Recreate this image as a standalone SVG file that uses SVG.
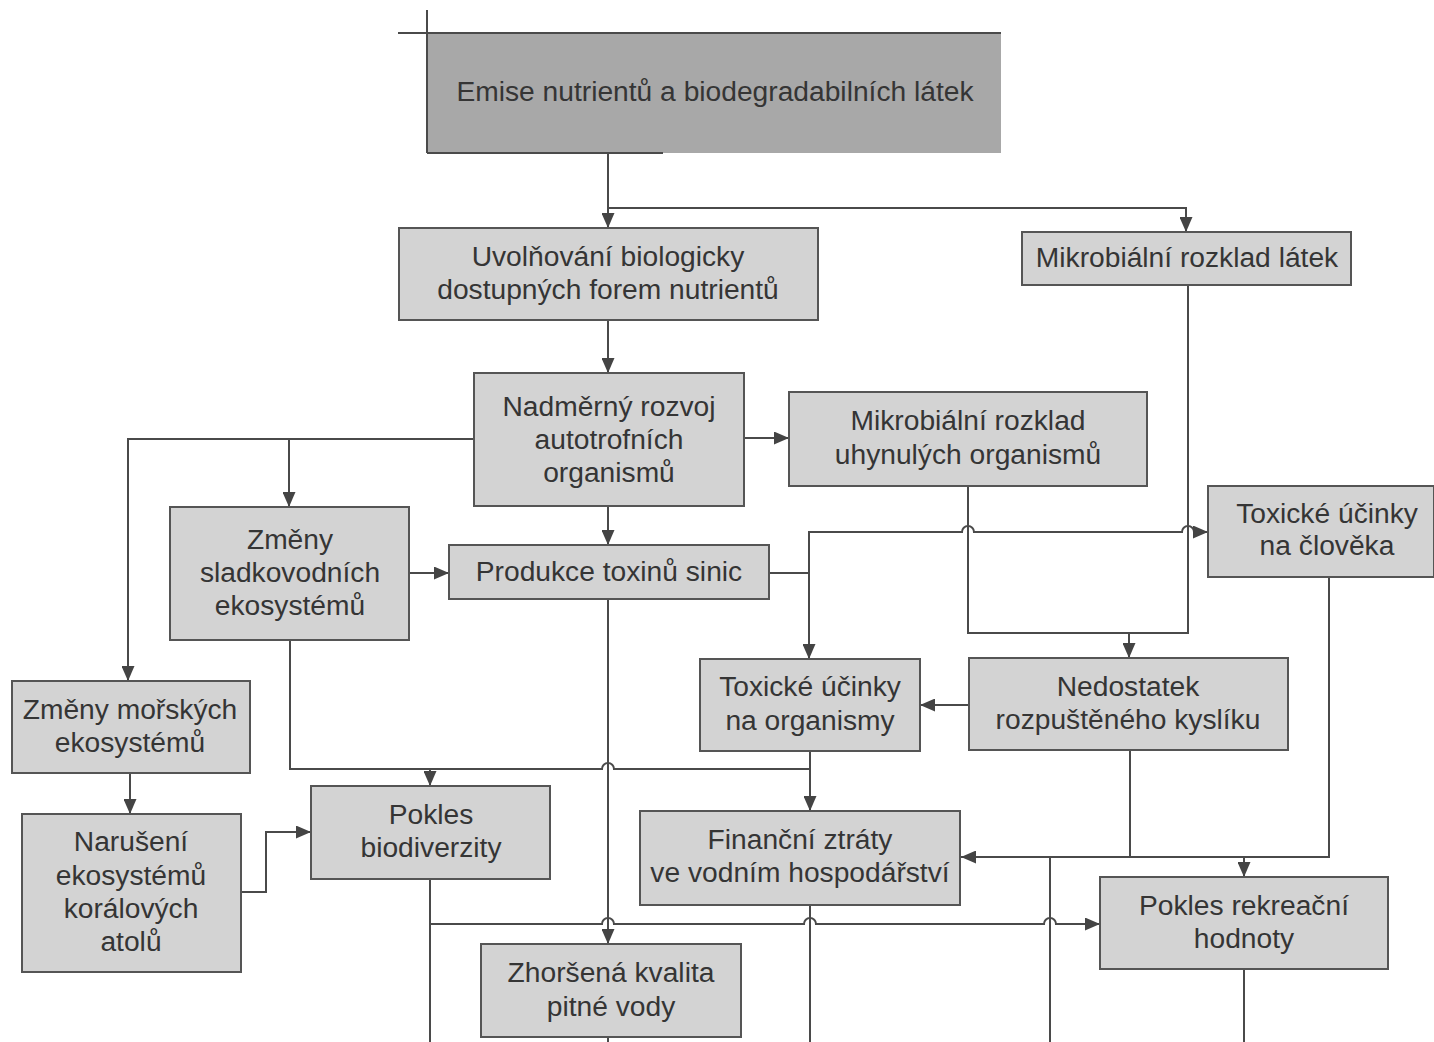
<svg xmlns="http://www.w3.org/2000/svg" width="1434" height="1042" viewBox="0 0 1434 1042">
<style>
.box{fill:#d3d3d3;stroke:#555;stroke-width:2}
.t{font-family:"Liberation Sans",Arial,sans-serif;font-size:28.2px;fill:#353535;text-anchor:middle}
.c{fill:none;stroke:#4a4a4a;stroke-width:2}
</style>
<defs>
<marker id="a" viewBox="0 0 15 13" refX="15" refY="6.5" markerWidth="15" markerHeight="13" orient="auto" markerUnits="userSpaceOnUse"><path d="M0,0 L15,6.5 L0,13 z" fill="#444"/></marker>
</defs>
<rect width="1434" height="1042" fill="#fff"/>
<g id="connectors">
<path class="c" d="M608 153 V228" marker-end="url(#a)"/>
<path class="c" d="M608 208 H1186 V232" marker-end="url(#a)"/>
<path class="c" d="M608 320 V373" marker-end="url(#a)"/>
<path class="c" d="M744 438 H789" marker-end="url(#a)"/>
<path class="c" d="M474 439 H128 V681" marker-end="url(#a)"/>
<path class="c" d="M289 439 V507" marker-end="url(#a)"/>
<path class="c" d="M608 506 V545" marker-end="url(#a)"/>
<path class="c" d="M409 573 H449" marker-end="url(#a)"/>
<path class="c" d="M769 573 H809 V659" marker-end="url(#a)"/>
<path class="c" d="M809 573 V532 H962 A6 6 0 0 1 974 532 H1182 A6 6 0 0 1 1194 532 H1208" marker-end="url(#a)"/>
<path class="c" d="M968 486 V633 H1188 V285"/>
<path class="c" d="M1129 633 V658" marker-end="url(#a)"/>
<path class="c" d="M969 705 H920" marker-end="url(#a)"/>
<path class="c" d="M810 751 V811" marker-end="url(#a)"/>
<path class="c" d="M290 640 V769 H602 A6 6 0 0 1 614 769 H810"/>
<path class="c" d="M430 769 V786" marker-end="url(#a)"/>
<path class="c" d="M608 599 V944" marker-end="url(#a)"/>
<path class="c" d="M130 773 V814" marker-end="url(#a)"/>
<path class="c" d="M241 892 H266 V832 H311" marker-end="url(#a)"/>
<path class="c" d="M1130 750 V857"/>
<path class="c" d="M1329 577 V857 H961" marker-end="url(#a)"/>
<path class="c" d="M1244 857 V877" marker-end="url(#a)"/>
<path class="c" d="M1050 857 V1042"/>
<path class="c" d="M430 879 V1042"/>
<path class="c" d="M430 924 H602 A6 6 0 0 1 614 924 H804 A6 6 0 0 1 816 924 H1044 A6 6 0 0 1 1056 924 H1100" marker-end="url(#a)"/>
<path class="c" d="M810 905 V1042"/>
<path class="c" d="M608 1037 V1042"/>
<path class="c" d="M1244 969 V1042"/>
</g>
<g id="n-emise">
<rect x="428" y="33" width="573" height="120" fill="#a8a8a8"/>
<path class="c" d="M398 33 H1001 M427 10 V153 M427 153 H663"/>
<text class="t" x="715" y="101">Emise nutrientů a biodegradabilních látek</text>
</g>
<g id="n-uvolnovani">
<rect class="box" x="399" y="228" width="419" height="92"/>
<text class="t" x="608" y="266">Uvolňování biologicky</text>
<text class="t" x="608" y="299">dostupných forem nutrientů</text>
</g>
<g id="n-mikro-latek">
<rect class="box" x="1022" y="232" width="329" height="53"/>
<text class="t" x="1187" y="267">Mikrobiální rozklad látek</text>
</g>
<g id="n-nadmerny">
<rect class="box" x="474" y="373" width="270" height="133"/>
<text class="t" x="609" y="416">Nadměrný rozvoj</text>
<text class="t" x="609" y="449">autotrofních</text>
<text class="t" x="609" y="482">organismů</text>
</g>
<g id="n-mikro-uhyn">
<rect class="box" x="789" y="392" width="358" height="94"/>
<text class="t" x="968" y="430">Mikrobiální rozklad</text>
<text class="t" x="968" y="464">uhynulých organismů</text>
</g>
<g id="n-sladkovodni">
<rect class="box" x="170" y="507" width="239" height="133"/>
<text class="t" x="290" y="549">Změny</text>
<text class="t" x="290" y="582">sladkovodních</text>
<text class="t" x="290" y="615">ekosystémů</text>
</g>
<g id="n-produkce">
<rect class="box" x="449" y="545" width="320" height="54"/>
<text class="t" x="609" y="581">Produkce toxinů sinic</text>
</g>
<g id="n-tox-clovek">
<rect class="box" x="1208" y="486" width="226" height="91"/>
<text class="t" x="1327" y="523">Toxické účinky</text>
<text class="t" x="1327" y="555">na člověka</text>
</g>
<g id="n-tox-org">
<rect class="box" x="700" y="659" width="220" height="92"/>
<text class="t" x="810" y="696">Toxické účinky</text>
<text class="t" x="810" y="730">na organismy</text>
</g>
<g id="n-nedostatek">
<rect class="box" x="969" y="658" width="319" height="92"/>
<text class="t" x="1128" y="696">Nedostatek</text>
<text class="t" x="1128" y="729">rozpuštěného kyslíku</text>
</g>
<g id="n-morskych">
<rect class="box" x="12" y="681" width="238" height="92"/>
<text class="t" x="130" y="719">Změny mořských</text>
<text class="t" x="130" y="752">ekosystémů</text>
</g>
<g id="n-biodiverzita">
<rect class="box" x="311" y="786" width="239" height="93"/>
<text class="t" x="431" y="824">Pokles</text>
<text class="t" x="431" y="857">biodiverzity</text>
</g>
<g id="n-naruseni">
<rect class="box" x="22" y="814" width="219" height="158"/>
<text class="t" x="131" y="851">Narušení</text>
<text class="t" x="131" y="885">ekosystémů</text>
<text class="t" x="131" y="918">korálových</text>
<text class="t" x="131" y="951">atolů</text>
</g>
<g id="n-financni">
<rect class="box" x="640" y="811" width="320" height="94"/>
<text class="t" x="800" y="849">Finanční ztráty</text>
<text class="t" x="800" y="882">ve vodním hospodářství</text>
</g>
<g id="n-rekreace">
<rect class="box" x="1100" y="877" width="288" height="92"/>
<text class="t" x="1244" y="915">Pokles rekreační</text>
<text class="t" x="1244" y="948">hodnoty</text>
</g>
<g id="n-voda">
<rect class="box" x="481" y="944" width="260" height="93"/>
<text class="t" x="611" y="982">Zhoršená kvalita</text>
<text class="t" x="611" y="1016">pitné vody</text>
</g>
</svg>
